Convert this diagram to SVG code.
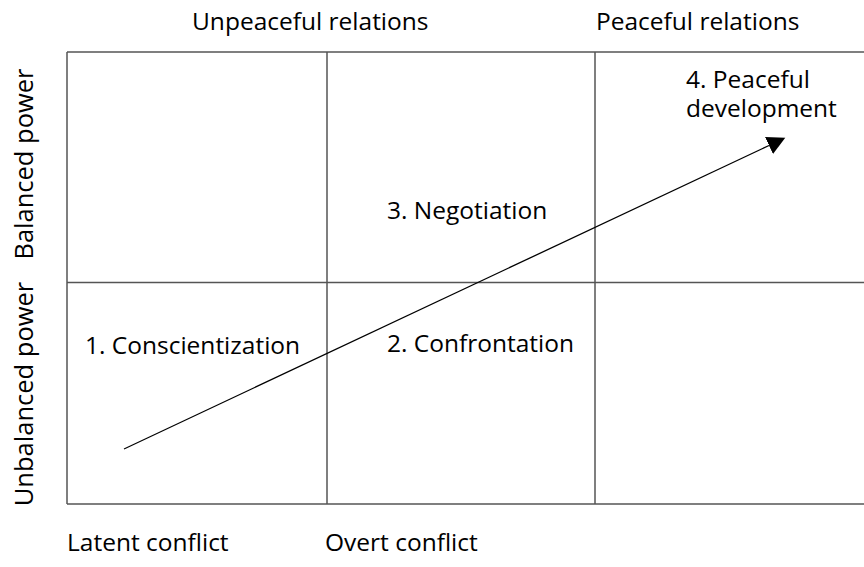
<svg xmlns="http://www.w3.org/2000/svg" width="864" height="567" viewBox="0 0 864 567">
<style>
.t{font-family:"Open Sans","Noto Sans","DejaVu Sans",sans-serif;font-size:24.5px;fill:#000}
.v{font-size:25.5px}
.g{stroke:#555;stroke-width:1.5;fill:none}
</style>
<defs>
<marker id="ah" markerUnits="userSpaceOnUse" markerWidth="20" markerHeight="20" refX="0" refY="9.4" orient="auto">
<path d="M0,0 L18,9.4 L0,18.8 z" fill="#000"/>
</marker>
</defs>
<rect width="864" height="567" fill="#fff"/>
<g id="grid">
<line class="g" x1="67" y1="52" x2="864" y2="52"/>
<line class="g" x1="67" y1="282.5" x2="864" y2="282.5"/>
<line class="g" x1="67" y1="504" x2="864" y2="504"/>
<line class="g" x1="67" y1="52" x2="67" y2="504"/>
<line class="g" x1="327" y1="52" x2="327" y2="504"/>
<line class="g" x1="595" y1="52" x2="595" y2="504"/>
</g>
<g id="axis-labels">
<text class="t" x="192" y="30">Unpeaceful relations</text>
<text class="t" x="596" y="30">Peaceful relations</text>
<text class="t" x="67" y="551">Latent conflict</text>
<text class="t" x="325" y="551">Overt conflict</text>
<text class="t v" text-anchor="middle" transform="translate(33,164) rotate(-90)">Balanced power</text>
<text class="t v" text-anchor="middle" transform="translate(33,394) rotate(-90)">Unbalanced power</text>
</g>
<g id="node1"><text class="t" x="85" y="354">1. Conscientization</text></g>
<g id="node2"><text class="t" x="387" y="352">2. Confrontation</text></g>
<g id="node3"><text class="t" x="387" y="219">3. Negotiation</text></g>
<g id="node4"><text class="t" x="686" y="88">4. Peaceful</text><text class="t" x="686" y="117">development</text></g>
<g id="connectors">
<line x1="124" y1="449" x2="769" y2="145.5" stroke="#000" stroke-width="1.3" marker-end="url(#ah)"/>
</g>
</svg>
